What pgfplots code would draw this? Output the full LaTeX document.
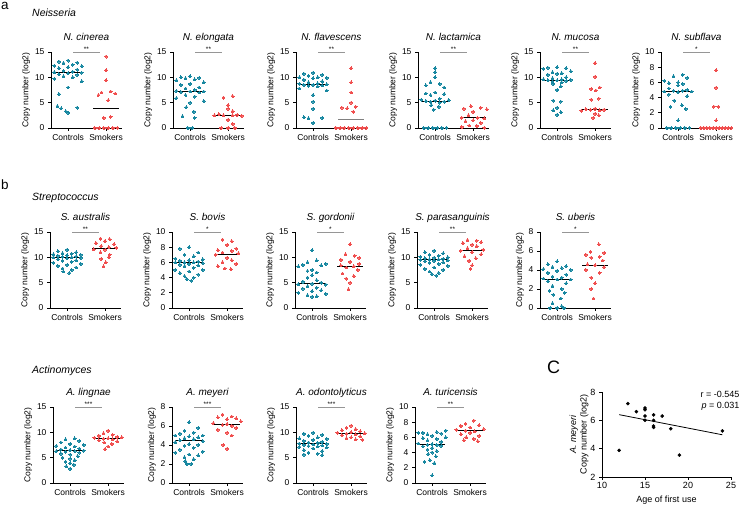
\documentclass[border=0pt]{standalone}
\usepackage{pgfplots}
\pgfplotsset{compat=1.18}
\usepackage{fontspec}
\setmainfont{Liberation Sans}
\definecolor{ctl}{RGB}{23,135,160}
\definecolor{smk}{RGB}{240,78,78}
\definecolor{sigc}{RGB}{150,150,150}
\pgfplotsset{
  pnl/.style={
    scale only axis, width=71pt, height=76pt, anchor=south west,
    xmin=0.55, xmax=2.42, ymin=0,
    axis lines=left, axis line style={-, line width=0.8pt},
    xtick={1,2}, xticklabels={Controls,Smokers},
    tick align=outside, major tick length=3pt,
    tick style={line width=0.8pt, black},
    ticklabel style={font=\fontsize{8.5}{9}\selectfont},
    ylabel={Copy number (log2)},
    ylabel style={font=\fontsize{8.5}{9}\selectfont, yshift=-2pt},
    title style={font=\fontsize{10}{11}\selectfont\itshape, at={(0.5,1)}, anchor=base, yshift=5pt},
    clip=false,
    /pgf/number format/assume math mode=true,
  },
  cpt/.style={only marks, mark=*, mark size=1.45pt, color=ctl, mark options={solid, fill=ctl, draw=ctl, line width=0pt}},
  spt/.style={only marks, mark=*, mark size=1.45pt, color=smk, mark options={solid, fill=smk, draw=smk, line width=0pt}},
}
\newcommand{\med}[2]{\addplot[black,line width=0.9pt] coordinates {(0.66,#1)(1.34,#1)};
  \addplot[black,line width=0.9pt] coordinates {(1.66,#2)(2.34,#2)};}
\newcommand{\sig}[2]{\addplot[sigc,line width=0.7pt] coordinates {(1.13,#1)(1.84,#1)};
  \node[font=\fontsize{6.5}{7}\selectfont, anchor=base, inner sep=0pt] at (axis cs:1.485,#1) {#2};}
\begin{document}
\begin{tikzpicture}
\path[use as bounding box] (0pt,0pt) rectangle (740pt,506pt);
% group labels
\node[anchor=base west, inner sep=0, font=\fontsize{13.5}{15}\selectfont] at (1pt,496pt) {a};
\node[anchor=base west, inner sep=0, font=\fontsize{10.5}{12}\selectfont\itshape] at (32pt,489pt) {Neisseria};
\node[anchor=base west, inner sep=0, font=\fontsize{13.5}{15}\selectfont] at (1pt,316pt) {b};
\node[anchor=base west, inner sep=0, font=\fontsize{10.5}{12}\selectfont\itshape] at (32pt,305pt) {Streptococcus};
\node[anchor=base west, inner sep=0, font=\fontsize{10.5}{12}\selectfont\itshape] at (32pt,132pt) {Actinomyces};
\node[anchor=base west, inner sep=0, font=\fontsize{18}{19}\selectfont] at (547pt,132.5pt) {C};

% ---------- Row a ----------
\begin{axis}[pnl, at={(51pt,378pt)}, title={N. cinerea}, ymax=15, ytick={0,5,10,15}]
\addplot[cpt] coordinates {(1,13.3)(0.76,13.1)(1.24,12.9)(0.88,12.8)(1.12,12.5)(0.64,12.3)(1.36,12.2)
(1,12.0)(0.76,11.8)(1.24,11.5)(0.88,11.3)(1.12,11.1)(0.64,11.0)(1.36,10.9)
(1,10.8)(0.76,10.6)(1.24,10.5)(0.88,10.2)(1.12,10.0)(0.64,9.7)(1.36,9.2)
(1,8.0)(0.76,6.7)(0.72,4.3)(1.24,4.0)(0.82,3.9)(0.94,3.3)(1.0,3.0)};
\addplot[spt] coordinates {(2,14.1)(2,11.4)(2,9.4)(2.12,7.2)(1.88,7.0)(2.24,6.8)(1.8,6.5)(2.06,5.5)(2.12,2.2)(1.94,2.0)
(1.7,0)(1.82,0)(1.94,0)(2.06,0)(2.18,0)(2.3,0)};
\med{10.9}{3.9}
\sig{15}{**}
\end{axis}

\begin{axis}[pnl, at={(173pt,378pt)}, title={N. elongata}, ymax=15, ytick={0,5,10,15}]
\addplot[cpt] coordinates {(1,10.2)(0.76,10.0)(1.24,9.9)(0.88,9.8)(1.12,9.6)(0.64,9.4)(1.36,9.0)
(1,8.7)(0.76,8.5)(1.24,8.0)(0.88,7.8)(1.12,7.5)(0.64,7.3)(1.36,7.2)
(1,7.2)(0.76,7.1)(1.24,7.0)(0.88,6.5)(1.12,6.2)(0.64,5.9)(1.36,5.3)
(1,5.0)(0.9,4.1)(1.1,3.2)(0.8,2.3)(1.12,2.0)(0.94,0)(1.06,0)};
\addplot[spt] coordinates {(2.12,6.3)(1.88,6.0)(2,4.5)(2,3.8)(2.12,3.3)(1.76,2.7)(2.24,2.6)(1.88,2.5)(2.12,2.5)(1.64,2.5)(2.36,2.4)(2,1.6)(2.12,0.8)(1.82,0)(2,0)(2.18,0)};
\med{7.2}{2.5}
\sig{15}{**}
\end{axis}

\begin{axis}[pnl, at={(296pt,378pt)}, title={N. flavescens}, ymax=15, ytick={0,5,10,15}]
\addplot[cpt] coordinates {(1,10.9)(0.76,10.7)(1.24,10.5)(0.88,10.3)(1.12,10.0)(0.64,10.0)(1.36,9.9)
(1,9.8)(0.76,9.5)(1.24,9.2)(0.88,9.0)(1.12,8.8)(0.64,8.7)(1.36,8.6)
(1,8.5)(0.76,8.5)(1.24,8.4)(0.88,8.3)(1.12,8.2)(0.64,7.8)(1.36,7.4)
(1,6.5)(1,5.2)(1,3.8)(0.76,2.1)(1.24,2.0)(0.88,1.9)(1,1.0)};
\addplot[spt] coordinates {(2,11.8)(2,9.0)(2,7.0)(2,5.0)(2.12,4.2)(1.76,4.0)(1.9,3.9)(2.06,3.2)
(1.6,0)(1.71,0)(1.82,0)(1.94,0)(2.06,0)(2.18,0)(2.29,0)(2.4,0)};
\addplot[black,line width=0.9pt] coordinates {(0.66,8.5)(1.34,8.5)};
\addplot[gray,line width=0.9pt] coordinates {(1.66,1.6)(2.34,1.6)};
\sig{15}{**}
\end{axis}

\begin{axis}[pnl, at={(418pt,378pt)}, title={N. lactamica}, ymax=15, ytick={0,5,10,15}]
\addplot[cpt] coordinates {(1,11.8)(1,11.0)(1,10.0)(0.88,9.0)(1.12,8.7)(0.76,8.4)(1.24,8.0)
(1,7.0)(0.76,6.8)(1.24,6.7)(0.88,6.5)(1.12,5.8)(0.64,5.6)(1.36,5.5)
(1,5.4)(0.76,5.3)(1.24,5.2)(0.88,5.2)(1.12,5.0)(0.9,4.5)(1.1,4.2)(0.96,3.6)
(0.7,0)(0.82,0)(0.94,0)(1.06,0)(1.18,0)(1.3,0)};
\addplot[spt] coordinates {(1.94,4.3)(2.2,4.0)(1.76,3.8)(2.36,3.7)(2,3.2)(1.88,2.5)(2.12,2.0)(1.7,2.0)(2.3,1.9)(2,1.5)(1.8,1.3)(2.2,1.0)(1.9,0.5)(2.1,0.4)(1.7,0.2)(2.3,0)};
\med{5.2}{2.0}
\sig{15}{**}
\end{axis}

\begin{axis}[pnl, at={(540pt,378pt)}, title={N. mucosa}, ymax=15, ytick={0,5,10,15}]
\addplot[cpt] coordinates {(1,12.0)(0.76,11.9)(1.24,11.8)(0.64,11.7)(1.36,11.2)(0.88,11.0)(1.12,10.8)
(1,10.7)(0.76,10.5)(1.24,10.0)(0.88,9.8)(1.12,9.6)(0.64,9.6)(1.36,9.5)
(1,9.4)(0.76,9.4)(1.24,9.3)(0.88,9.2)(1.12,9.0)(0.9,8.7)(1.1,8.2)
(1,7.5)(0.9,5.4)(1.1,5.2)(1,4.0)(0.9,3.5)(1.1,3.1)(1,2.6)};
\addplot[spt] coordinates {(2,12.8)(2,10.1)(2.12,8.0)(1.9,7.7)(2.02,7.4)(2.1,5.8)(1.9,5.6)(2,3.8)(1.76,3.7)(2.24,3.6)(1.88,3.6)(2.12,3.5)(1.64,3.4)(2,2.8)(2.1,2.5)(1.95,2.0)};
\med{9.4}{3.7}
\sig{15}{**}
\end{axis}

\begin{axis}[pnl, at={(661pt,378pt)}, title={N. subflava}, ymax=10, ytick={0,2,4,6,8,10}]
\addplot[cpt] coordinates {(1.12,7.0)(0.88,6.8)(1.24,6.6)(0.64,6.2)(1,6.0)(0.76,5.9)(1.12,5.8)
(1,5.6)(0.76,5.2)(1.24,5.0)(0.88,4.9)(1.12,4.9)(0.64,4.8)(1.36,4.8)
(1,4.7)(0.76,4.4)(1.24,4.2)(0.9,3.6)(1.1,3.0)(0.8,2.8)(1.2,2.5)(1,1.0)
(0.7,0)(0.82,0)(0.94,0)(1.06,0)(1.18,0)(1.3,0)};
\addplot[spt] coordinates {(2,7.6)(2,5.3)(1.94,2.8)(2.06,2.8)(2,1.0)
(1.6,0)(1.68,0)(1.76,0)(1.84,0)(1.92,0)(2,0)(2.08,0)(2.16,0)(2.24,0)(2.32,0)(2.4,0)};
\addplot[black,line width=0.9pt] coordinates {(0.66,4.85)(1.34,4.85)};
\addplot[smk,line width=0.9pt] coordinates {(1.62,0)(2.38,0)};
\sig{10}{*}
\end{axis}

% ---------- Row b ----------
\begin{axis}[pnl, at={(50pt,198pt)}, title={S. australis}, ymax=15, ytick={0,5,10,15}]
\addplot[cpt] coordinates {(1,11.5)(0.76,11.2)(1.24,11.0)(0.88,10.8)(1.12,10.7)(0.64,10.6)(1.36,10.5)
(1,10.4)(0.76,10.3)(1.24,10.2)(0.88,10.1)(1.12,10.0)(0.64,10.0)(1.36,9.9)
(1,9.8)(0.76,9.6)(1.24,9.4)(0.88,9.3)(1.12,9.1)(0.64,8.9)(1.36,8.7)
(1,8.5)(0.76,8.3)(1.24,8.0)(0.88,7.8)(1.12,7.5)(0.9,7.2)(1.06,6.9)};
\addplot[spt] coordinates {(1.88,13.7)(2.12,13.6)(2,13.2)(1.76,12.8)(2.24,12.6)(1.9,12.2)(2.1,12.0)(2.3,11.9)(1.7,11.6)(2,11.5)(1.88,11.0)(2.12,10.5)(2.1,10.0)(1.9,9.7)(2.02,9.0)(1.96,8.2)};
\med{10.0}{11.75}
\sig{15}{**}
\end{axis}

\begin{axis}[pnl, at={(172pt,198pt)}, title={S. bovis}, ymax=10, ytick={0,2,4,6,8,10}]
\addplot[cpt] coordinates {(1,8.0)(0.76,7.8)(1.24,7.3)(0.88,7.0)(1.12,6.8)(0.64,6.5)(1.36,6.4)
(1,6.3)(0.76,6.2)(1.24,6.1)(0.88,6.0)(1.12,6.0)(0.64,6.0)(1.36,5.9)
(1,5.8)(0.76,5.7)(1.24,5.6)(0.88,5.5)(1.12,5.3)(0.64,5.0)(1.36,5.0)
(1,4.8)(0.76,4.6)(1.24,4.4)(0.88,4.2)(1.12,4.0)(0.94,3.8)(1.06,3.6)};
\addplot[spt] coordinates {(1.88,9.0)(2.12,8.8)(2,8.3)(2.24,7.8)(1.76,7.6)(2.12,7.5)(1.88,7.3)(2.3,7.2)(1.7,7.0)(2,6.6)(2.12,6.3)(1.88,6.0)(2.24,5.8)(1.76,5.5)(1.94,5.2)(2.1,5.1)};
\med{5.95}{7.1}
\sig{10}{*}
\end{axis}

\begin{axis}[pnl, at={(295pt,198pt)}, title={S. gordonii}, ymax=15, ytick={0,5,10,15}]
\addplot[cpt] coordinates {(1,11.4)(1.12,9.4)(0.88,9.0)(1.36,8.7)(0.76,8.5)(1.24,8.4)(0.64,8.2)
(1,7.5)(0.88,7.3)(1.12,7.0)(1,6.5)(0.88,6.0)(1.12,5.5)(0.76,5.2)
(1.24,5.0)(1,4.8)(0.64,4.7)(1.36,4.6)(0.88,4.3)(1.12,4.0)(0.76,3.8)
(1.24,3.5)(1,3.3)(0.64,3.0)(1.36,2.8)(0.88,2.5)(1.12,2.3)(1,2.2)};
\addplot[spt] coordinates {(2,12.6)(1.88,10.6)(2.12,10.3)(2.24,9.9)(1.76,9.5)(2,9.1)(2.24,8.7)(1.76,8.4)(2.1,8.2)(1.9,8.0)(2.2,7.5)(1.8,6.8)(2.1,6.3)(1.9,5.8)(2,5.0)(1.96,3.7)};
\med{4.8}{8.2}
\sig{15}{*}
\end{axis}

\begin{axis}[pnl, at={(417pt,198pt)}, title={S. parasanguinis}, ymax=15, ytick={0,5,10,15}]
\addplot[cpt] coordinates {(1,11.3)(0.76,11.0)(1.24,10.8)(0.88,10.5)(1.12,10.3)(0.64,10.1)(1.36,10.0)
(1,9.9)(0.76,9.8)(1.24,9.7)(0.88,9.6)(1.12,9.6)(0.64,9.5)(1.36,9.4)
(1,9.3)(0.76,9.2)(1.24,9.0)(0.88,8.9)(1.12,8.7)(0.64,8.5)(1.36,8.3)
(1,8.0)(0.76,7.7)(1.24,7.5)(0.88,7.2)(1.12,6.9)(0.94,6.7)(1.06,6.4)};
\addplot[spt] coordinates {(1.88,13.4)(2.12,13.3)(2.24,13.0)(1.76,12.8)(2,12.5)(2.12,12.2)(1.88,11.8)(2.3,11.5)(1.7,11.3)(2,11.0)(2.24,10.6)(1.8,10.2)(2.1,9.8)(1.92,9.3)(2,8.4)(1.96,7.7)};
\med{9.6}{11.4}
\sig{15}{**}
\end{axis}

\begin{axis}[pnl, at={(540pt,198pt)}, title={S. uberis}, ymax=8, ytick={0,2,4,6,8}]
\addplot[cpt] coordinates {(1,4.9)(0.76,4.6)(1.24,4.4)(0.88,4.3)(1.12,4.2)(0.64,4.1)(1.36,4.0)
(1,3.9)(0.76,3.7)(1.24,3.5)(0.88,3.3)(1.12,3.2)(0.64,3.1)(1.36,3.0)
(1,3.0)(0.76,2.8)(1.24,2.6)(0.88,2.3)(1.12,2.0)(0.8,1.8)(1.2,1.6)
(0.9,1.4)(1.1,1.0)(0.88,0.5)(1.12,0.2)(0.82,0)(1,0)(1.18,0)};
\addplot[spt] coordinates {(2.1,6.7)(1.88,5.9)(2.24,5.8)(1.76,5.6)(2.12,5.4)(1.9,5.3)(2.2,5.0)(1.8,4.6)(2,4.5)(2.24,4.3)(1.76,4.0)(2.12,3.7)(1.9,3.2)(2,2.6)(1.9,2.0)(1.96,1.0)};
\med{3.0}{4.5}
\sig{8}{*}
\end{axis}

% ---------- Row c ----------
\begin{axis}[pnl, at={(53pt,23pt)}, title={A. lingnae}, ymax=15, ytick={0,5,10,15}]
\addplot[cpt] coordinates {(1.12,8.8)(0.88,8.6)(1.24,8.3)(0.76,8.0)(1,7.7)(1.36,7.5)(0.64,7.3)
(1.12,7.2)(0.88,7.0)(1.24,6.8)(0.76,6.6)(1,6.5)(1.36,6.4)(0.64,6.3)
(1.12,6.3)(0.88,6.2)(1.24,6.0)(0.76,5.8)(1,5.6)(1.2,5.3)(0.8,5.0)
(1,4.8)(1.12,4.5)(0.88,4.2)(1,3.9)(1.1,3.6)(0.9,3.3)(1,2.8)};
\addplot[spt] coordinates {(2,10.3)(1.88,9.8)(2.12,9.5)(1.76,9.3)(2.24,9.1)(2.36,9.0)(1.64,8.9)(2,8.8)(1.88,8.7)(2.12,8.6)(1.76,8.4)(2.24,8.2)(1.9,8.0)(2.1,7.7)(2,7.2)(1.92,6.7)};
\med{6.35}{8.75}
\sig{15}{***}
\end{axis}

\begin{axis}[pnl, at={(172pt,23pt)}, title={A. meyeri}, ymax=8, ytick={0,2,4,6,8}]
\addplot[cpt] coordinates {(1,6.4)(1.24,5.8)(0.88,5.5)(1.12,5.3)(0.76,5.2)(1.36,5.0)(0.64,5.0)
(1,4.9)(1.24,4.8)(0.88,4.7)(1.12,4.6)(0.76,4.5)(1.36,4.4)(0.64,4.3)
(1,4.1)(1.24,4.0)(0.88,3.9)(1.12,3.7)(0.76,3.5)(1.36,3.3)(0.64,3.2)
(1,3.0)(1.24,2.9)(0.88,2.7)(1.12,2.5)(0.9,2.3)(0.94,2.0)(1.06,2.0)};
\addplot[spt] coordinates {(1.88,7.2)(2.12,7.0)(1.76,6.9)(2.24,6.8)(2,6.7)(2.36,6.5)(1.64,6.3)(2,6.2)(1.88,6.1)(2.12,6.0)(2.24,5.8)(1.76,5.6)(2,5.3)(2.12,5.0)(1.9,4.0)(2,3.6)};
\med{4.45}{6.15}
\sig{8}{***}
\end{axis}

\begin{axis}[pnl, at={(296pt,23pt)}, title={A. odontolyticus}, ymax=15, ytick={0,5,10,15}]
\addplot[cpt] coordinates {(1,9.9)(0.76,9.7)(1.24,9.5)(0.88,9.3)(1.12,9.0)(0.64,8.8)(1.36,8.7)
(1,8.5)(0.76,8.3)(1.24,8.1)(0.88,8.0)(1.12,7.9)(0.64,7.8)(1.36,7.7)
(1,7.6)(0.76,7.5)(1.24,7.4)(0.88,7.3)(1.12,7.2)(0.64,7.1)(1.36,7.0)
(1,6.8)(0.76,6.5)(1.24,6.3)(0.88,6.0)(1.12,5.8)(0.76,5.6)(1.24,5.5)};
\addplot[spt] coordinates {(2,11.3)(1.88,10.9)(2.12,10.6)(1.76,10.4)(2.24,10.2)(2,10.0)(1.64,9.9)(2.36,9.8)(1.88,9.7)(2.12,9.6)(1.76,9.4)(2.24,9.2)(2,9.0)(1.88,8.8)(2.12,8.6)(2.3,8.5)};
\med{7.75}{9.75}
\sig{15}{***}
\end{axis}

\begin{axis}[pnl, at={(415pt,23pt)}, title={A. turicensis}, ymax=10, ytick={0,2,4,6,8,10}]
\addplot[cpt] coordinates {(1.36,6.9)(1.12,6.7)(0.76,6.6)(0.64,6.6)(1.24,6.5)(0.88,6.4)(1,6.2)
(1.36,6.0)(0.76,5.9)(1.12,5.8)(0.88,5.6)(1.24,5.4)(0.64,5.2)(1,5.1)
(0.88,5.0)(1.12,5.0)(1.24,4.9)(0.76,4.8)(1,4.6)(0.88,4.4)(1.12,4.2)
(1,4.0)(0.9,3.8)(1.1,3.5)(0.94,3.0)(0.8,2.8)(1.06,2.6)(1,1.0)};
\addplot[spt] coordinates {(2.1,8.2)(1.88,7.8)(2.24,7.6)(1.76,7.5)(2,7.3)(2.36,7.1)(1.64,7.0)(1.88,6.9)(2.12,6.8)(2,6.6)(1.76,6.4)(2.24,6.2)(1.9,6.0)(2.1,5.8)(1.84,5.6)(2.2,5.5)};
\med{5.05}{6.9}
\sig{10}{**}
\end{axis}

% ---------- Panel C ----------
\begin{axis}[scale only axis, width=129pt, height=85pt, anchor=south west, at={(602pt,29pt)},
  xmin=10, xmax=25, ymin=2, ymax=8, xtick={10,15,20,25}, ytick={2,4,6,8},
  axis lines=left, axis line style={-, line width=0.8pt},
  tick align=outside, major tick length=3pt, tick style={line width=0.8pt, black},
  ticklabel style={font=\fontsize{9}{10}\selectfont},
  xticklabel style={yshift=1.5pt},
  /pgf/number format/assume math mode=true,
  xlabel={Age of first use}, xlabel style={font=\fontsize{9}{10}\selectfont, yshift=-1pt},
  ylabel={\textit{A. meyeri}\\Copy number (log2)},
  ylabel style={font=\fontsize{9}{10.5}\selectfont, align=center, yshift=-5pt},
  clip=false]
\addplot[only marks, mark=*, mark size=1.6pt, black] coordinates {(12,3.88)(13,7.18)(14,6.61)(15,6.87)(15,6.75)(15,6.3)(15,6.0)(16,6.38)(16,6.0)(16,5.6)(16,5.5)(17,6.3)(18,5.41)(19,3.55)(24,5.25)};
\addplot[black, line width=0.8pt] coordinates {(12,6.4)(24,4.98)};
\node[anchor=north east, align=right, inner sep=0pt, font=\fontsize{9}{11}\selectfont] at (rel axis cs:1,1) [xshift=8.5pt, yshift=1pt] {r = -0.545\\\textit{p} = 0.031};
\end{axis}
\end{tikzpicture}
\end{document}
